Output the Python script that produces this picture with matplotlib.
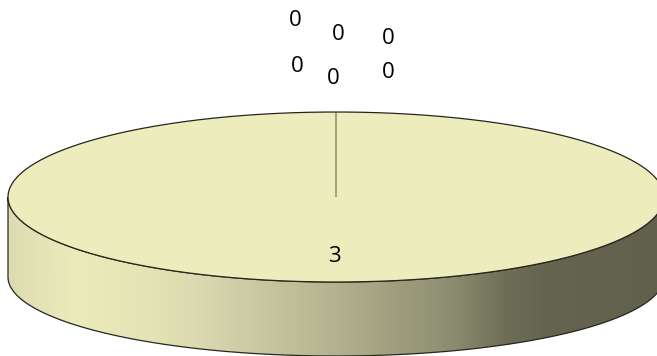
import numpy as np
import matplotlib
matplotlib.use('Agg')
import matplotlib.pyplot as plt
from matplotlib.colors import LinearSegmentedColormap

plt.rcParams['font.family'] = ['Open Sans', 'DejaVu Sans']

# one real slice, six empty ones
values = [3, 0, 0, 0, 0, 0, 0]
labels = ['3', '0', '0', '0', '0', '0', '0']

W, H = 657, 356
CX, CY, RX, RY = 336, 197, 328, 85
DROP = 80 / RY      # left edge of the side
LOWER = 79 / RY     # lower rim is a bit flatter than the top

# label spots in pixels
label_px = [(334, 256), (388, 73), (388, 38), (338, 34), (295, 21), (297, 67), (333, 78)]

fig = plt.figure(figsize=(W / 100, H / 100), dpi=100)
ax = fig.add_axes([0, 0, 1, 1])

# side of the disc first
t = np.linspace(np.pi, 2 * np.pi, 300)
side_x = np.r_[np.cos(t), np.cos(t)[::-1]]
side_y = np.r_[LOWER * np.sin(t) - DROP, np.sin(t)[::-1]]
poly = ax.fill(side_x, side_y, facecolor='none', edgecolor='#26261e', linewidth=0.9, zorder=1)[0]

stops = [(0.0, '#dcdcb2'), (0.10, '#ecebbb'), (0.22, '#e4e3b5'), (0.29, '#dad9b0'),
         (0.49, '#b4b490'), (0.68, '#8c8c70'), (0.76, '#6e6e58'), (0.82, '#646450'),
         (1.0, '#60604c')]
cmap = LinearSegmentedColormap.from_list('side', stops)
img = ax.imshow(np.linspace(0, 1, 400)[None, :], cmap=cmap, aspect='auto', zorder=0,
                extent=(-1, 1, -1 - DROP, 0))
img.set_clip_path(poly)

# top of the disc
wedges, _ = ax.pie(values, startangle=90, counterclock=False, radius=1, center=(0, 0),
                   colors=['#edecbc'] * len(values),
                   wedgeprops={'edgecolor': 'none', 'zorder': 2})
wedges[-1].set_edgecolor('#77775f')
wedges[-1].set_linewidth(0.9)
wedges[-1].set_zorder(3)

a = np.linspace(0, 2 * np.pi, 500)
ax.plot(np.cos(a), np.sin(a), color='#26261e', linewidth=0.9, zorder=4)

ax.set_aspect('auto')
ax.set_xlim(-CX / RX, (W - CX) / RX)
ax.set_ylim((CY - H) / RY, CY / RY)
ax.axis('off')

for lab, (px, py) in zip(labels, label_px):
    ax.text((px - CX) / RX, (CY - py) / RY, lab, fontsize=16, color='black',
            ha='center', va='center', zorder=5)

fig.savefig('out.png', dpi=100)
